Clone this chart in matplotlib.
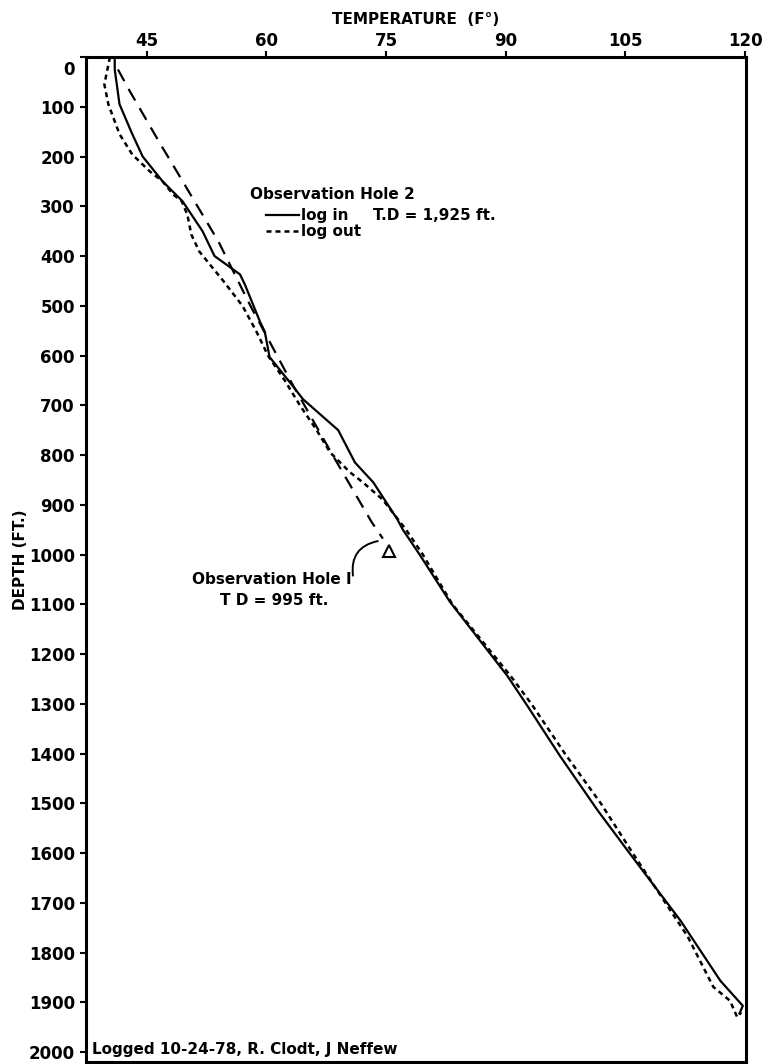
import matplotlib
matplotlib.use("Agg")
import matplotlib.pyplot as plt
import matplotlib.transforms as mtransforms
from matplotlib.lines import Line2D

# Observation Hole 2, log in (solid)
in_depth = [0, 25, 95, 155, 200, 250, 290, 350, 400, 437, 457, 532, 552, 603,
            653, 688, 750, 815, 855, 929, 950, 1000, 1095, 1244, 1304, 1405,
            1514, 1598, 1736, 1857, 1907, 1922]
in_temp = [41.0, 41.0, 41.6, 43.2, 44.5, 47.0, 49.5, 52.0, 53.5, 56.7, 57.3,
           59.2, 59.8, 60.4, 62.9, 64.6, 69.0, 71.1, 73.4, 76.4, 77.1, 79.2,
           83.0, 90.2, 92.7, 96.8, 101.5, 105.4, 111.9, 116.9, 119.7, 119.3]

# Observation Hole 2, log out (dotted)
out_depth = [0, 55, 95, 155, 196, 230, 250, 276, 290, 317, 357, 391, 450, 500,
             550, 600, 650, 700, 750, 795, 835, 855, 890, 950, 1000, 1100,
             1244, 1300, 1400, 1500, 1600, 1700, 1768, 1869, 1897, 1930, 1920]
out_temp = [40.4, 39.7, 40.2, 41.6, 43.2, 45.4, 47.0, 48.3, 49.4, 50.1, 50.6,
            51.6, 54.6, 57.0, 58.7, 60.2, 62.3, 64.2, 66.3, 68.0, 70.5, 72.1,
            74.6, 77.5, 79.6, 83.3, 90.6, 93.2, 97.4, 101.9, 105.9, 110.0,
            112.8, 116.0, 118.1, 119.0, 119.5]

# Observation Hole 1 (long dashes), TD 995 ft
h1_depth = [25, 69, 169, 236, 317, 371, 500, 650, 800, 935, 968]
h1_temp = [41.4, 42.9, 46.5, 49.0, 52.0, 54.0, 58.0, 63.0, 68.3, 73.2, 74.6]
h1_td = (75.4, 992)

temp_ticks = [45, 60, 75, 90, 105, 120]
depth_ticks = list(range(0, 2001, 100))

fig = plt.figure(figsize=(7.64, 10.64), dpi=100)
ax = fig.add_axes([86 / 764, 2 / 1064, 660 / 764, 1005 / 1064])

ax.plot(in_temp, in_depth, color="black", lw=1.6, solid_joinstyle="round")
ax.plot(out_temp, out_depth, color="black", lw=1.8, linestyle=(0, (2.0, 1.6)))
ax.plot(h1_temp, h1_depth, color="black", lw=1.6, linestyle=(0, (6, 4)))
ax.plot(*h1_td, marker="^", ms=8, mfc="white", mec="black", mew=1.5)

ax.set_xlim(37.4, 120.1)
ax.set_ylim(2020, 0)

ax.xaxis.tick_top()
ax.xaxis.set_label_position("top")
ax.set_xticks(temp_ticks)
ax.set_xticklabels([str(t) for t in temp_ticks])
ax.set_yticks(depth_ticks)
ax.set_yticklabels([str(d) for d in depth_ticks])
ax.tick_params(axis="both", direction="out", length=4, width=1.5,
               labelsize=12)
ax.tick_params(axis="x", pad=1)
ax.tick_params(axis="y", pad=4)
for lab in ax.get_xticklabels() + ax.get_yticklabels():
    lab.set_fontweight("bold")
# zero label sits a bit below its tick in the original
zero = ax.get_yticklabels()[0]
zero.set_transform(zero.get_transform() +
                   mtransforms.ScaledTranslation(0, -0.11, fig.dpi_scale_trans))

for s in ax.spines.values():
    s.set_linewidth(2.2)

ax.set_xlabel("TEMPERATURE  (F°)", fontsize=11, fontweight="bold", labelpad=6)
ax.set_ylabel("DEPTH (FT.)", fontsize=11, fontweight="bold")
ax.yaxis.set_label_coords(-58 / 660, 0.5)

ax.text(57.9, 276, "Observation Hole 2", fontsize=11, fontweight="bold",
        ha="left", va="center")
handles = [Line2D([], [], color="black", lw=1.6),
           Line2D([], [], color="black", lw=1.8, linestyle=(0, (2.0, 1.6)))]
ax.legend(handles, ["log in", "log out"],
          loc="upper left", bbox_to_anchor=(0.2605, 0.857),
          frameon=False, handlelength=2.2, handletextpad=0.1,
          labelspacing=0.05, borderpad=0,
          prop={"size": 11, "weight": "bold"})
ax.text(73.3, 318, "T.D = 1,925 ft.", fontsize=11, fontweight="bold",
        va="center", ha="left")

ax.annotate("", xy=(74.3, 972), xytext=(70.9, 1048),
            arrowprops=dict(arrowstyle="-", lw=1.4, color="black",
                            connectionstyle="arc3,rad=-0.5"))
ax.text(70.7, 1050, "Observation Hole I", fontsize=11, fontweight="bold",
        ha="right", va="center")
ax.text(61.0, 1092, "T D = 995 ft.", fontsize=11, fontweight="bold",
        ha="center", va="center")

ax.text(38.1, 1995, "Logged 10-24-78, R. Clodt, J Neffew", fontsize=11,
        fontweight="bold", ha="left", va="center")

fig.savefig("out.png", dpi=100)
